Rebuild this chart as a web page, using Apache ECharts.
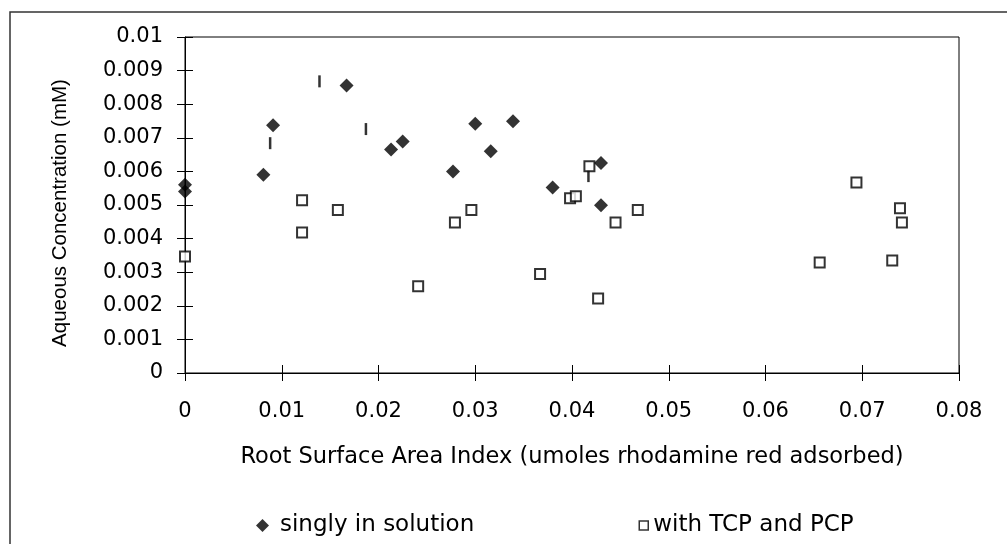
<!DOCTYPE html>
<html>
<head>
<meta charset="utf-8">
<script src="https://cdn.jsdelivr.net/npm/echarts@6/dist/echarts.min.js"></script>
<style>
  html, body { margin: 0; padding: 0; background: #fff; }
  #chart { width: 1007px; height: 544px; }
</style>
</head>
<body>
<div id="chart"></div>
<script>
// singly in solution (filled diamonds)
const singlyX = [0, 0, 0.0081, 0.0091, 0.0167, 0.0213, 0.0225, 0.0277, 0.0300, 0.0316, 0.0339, 0.0380, 0.0430, 0.0430];
const singlyY = [0.0056, 0.0054, 0.0059, 0.00737, 0.00856, 0.00665, 0.00689, 0.0060, 0.00742, 0.0066, 0.00749, 0.00552, 0.00625, 0.00499];

// with TCP and PCP (open squares)
const tcpX = [0, 0.0121, 0.0121, 0.0158, 0.0241, 0.0279, 0.0296, 0.0367, 0.0398, 0.0404, 0.0418, 0.0427, 0.0445, 0.0468, 0.0656, 0.0694, 0.0731, 0.0739, 0.0741];
const tcpY = [0.00347, 0.00514, 0.00418, 0.00485, 0.00258, 0.00448, 0.00485, 0.00295, 0.0052, 0.00526, 0.00615, 0.00222, 0.00448, 0.00485, 0.00329, 0.00567, 0.00335, 0.0049, 0.00448];

// small vertical dash marks
const dashX = [0.0088, 0.0139, 0.0187, 0.0417];
const dashY = [0.00684, 0.00868, 0.00726, 0.00586];

const xTitle = "Root Surface Area Index (umoles rhodamine red adsorbed)";
const yTitle = "Aqueous Concentration (mM)";

const font = "DejaVu Sans";
const fmt = v => String(parseFloat(v.toFixed(4)));

function pairs(xs, ys) {
  return xs.map((x, i) => [x, ys[i]]);
}

const chart = echarts.init(document.getElementById("chart"));

const xBase = { type: "value", min: 0, max: 0.08, interval: 0.01, position: "bottom", splitLine: { show: false } };
const yBase = { type: "value", min: 0, max: 0.01, interval: 0.001, position: "left", splitLine: { show: false } };

chart.setOption({
  animation: false,
  backgroundColor: "#fff",
  grid: { left: 185, right: 48, top: 37, bottom: 171, show: true, borderColor: "#000", borderWidth: 1 },
  xAxis: [
    Object.assign({}, xBase, {
      name: xTitle, nameLocation: "middle", nameGap: 73,
      nameTextStyle: { fontFamily: font, fontSize: 22.5, color: "#000" },
      axisLine: { lineStyle: { color: "#000", width: 1 } },
      axisTick: { length: 8, lineStyle: { color: "#000" } },
      axisLabel: { fontFamily: font, fontSize: 21, color: "#000", margin: 28, formatter: fmt }
    }),
    Object.assign({}, xBase, {
      axisLine: { show: false },
      axisTick: { inside: true, length: 8, lineStyle: { color: "#000" } },
      axisLabel: { show: false }
    })
  ],
  yAxis: [
    Object.assign({}, yBase, {
      name: yTitle, nameLocation: "middle", nameGap: 114,
      nameTextStyle: { fontFamily: "Liberation Sans", fontSize: 20.5, color: "#000", padding: [0, 16, 0, 0] },
      axisLine: { lineStyle: { color: "#000", width: 1 } },
      axisTick: { length: 8, lineStyle: { color: "#000" } },
      axisLabel: { fontFamily: font, fontSize: 21, color: "#000", margin: 22, formatter: fmt }
    }),
    Object.assign({}, yBase, {
      axisLine: { show: false },
      axisTick: { inside: true, length: 8, lineStyle: { color: "#000" } },
      axisLabel: { show: false }
    })
  ],
  legend: [
    {
      left: 251, top: 509, itemWidth: 13, itemHeight: 13, itemGap: 0,
      textStyle: { fontFamily: font, fontSize: 23, color: "#000", padding: [0, 0, 0, 6] },
      data: [{ name: "singly in solution", icon: "diamond" }]
    },
    {
      left: 633.5, top: 509, itemWidth: 9, itemHeight: 9, itemGap: 0,
      textStyle: { fontFamily: font, fontSize: 23, color: "#000" },
      data: [{ name: "with TCP and PCP", icon: "rect", itemStyle: { color: "#fff", borderColor: "#000", borderWidth: 1.5 } }]
    }
  ],
  graphic: [
    { type: "rect", shape: { x: 10, y: 12, width: 1100, height: 600 }, style: { fill: null, stroke: "#333", lineWidth: 1.5 }, silent: true }
  ],
  series: [
    {
      name: "dash", type: "scatter", symbol: "rect", symbolSize: [2.5, 12],
      itemStyle: { color: "#000" }, data: pairs(dashX, dashY), z: 3
    },
    {
      name: "singly in solution", type: "scatter", symbol: "diamond", symbolSize: 14,
      itemStyle: { color: "#000" }, data: pairs(singlyX, singlyY), z: 4
    },
    {
      name: "with TCP and PCP", type: "scatter", symbol: "rect", symbolSize: 10,
      itemStyle: { color: "#fff", borderColor: "#000", borderWidth: 2 }, data: pairs(tcpX, tcpY), z: 5
    }
  ]
});
</script>
</body>
</html>
